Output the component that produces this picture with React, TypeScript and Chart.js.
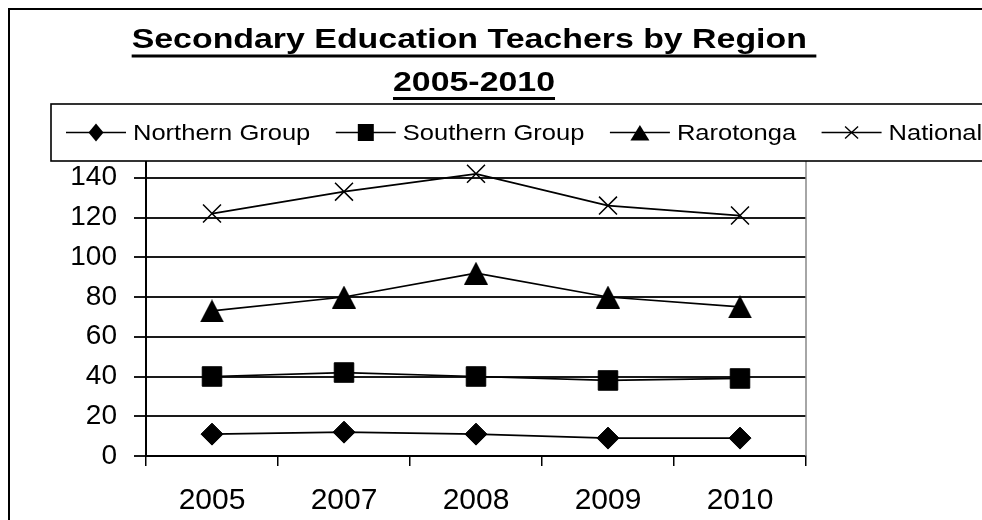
import React, { useEffect, useRef } from 'react';
import { Chart, registerables } from 'chart.js';

Chart.register(...registerables);

const TITLE_LINES = ['Secondary Education Teachers by Region ', '2005-2010'];
const YEARS = ['2005', '2007', '2008', '2009', '2010'];
const SERIES_NAMES = ['Northern Group', 'Southern Group', 'Rarotonga', 'National'];
const NORTHERN = [11, 12, 11, 9, 9];
const SOUTHERN = [40, 42, 40, 38, 39];
const RAROTONGA = [73, 80, 92, 80, 75];
const NATIONAL = [122, 133, 142, 126, 121];
const Y_MIN = 0;
const Y_MAX = 160;
const Y_STEP = 20;

const FONT = '"Liberation Sans", Arial, sans-serif';
const W = 982;
const H = 520;

function makeTriangle(w: number, h: number) {
  const c = document.createElement('canvas');
  c.width = w;
  c.height = h;
  const g = c.getContext('2d')!;
  g.fillStyle = '#000';
  g.beginPath();
  g.moveTo(w / 2, 0);
  g.lineTo(w, h);
  g.lineTo(0, h);
  g.closePath();
  g.fill();
  return c;
}

function drawLegendMarker(ctx: CanvasRenderingContext2D, kind: number, x: number, y: number) {
  ctx.save();
  ctx.fillStyle = '#000';
  ctx.strokeStyle = '#000';
  ctx.beginPath();
  if (kind === 0) {
    ctx.moveTo(x, y - 9);
    ctx.lineTo(x + 7.5, y);
    ctx.lineTo(x, y + 9);
    ctx.lineTo(x - 7.5, y);
    ctx.closePath();
    ctx.fill();
  } else if (kind === 1) {
    ctx.rect(x - 8, y - 8.5, 16, 17);
    ctx.fill();
  } else if (kind === 2) {
    ctx.moveTo(x, y - 7.5);
    ctx.lineTo(x + 9.5, y + 8);
    ctx.lineTo(x - 9.5, y + 8);
    ctx.closePath();
    ctx.fill();
  } else {
    ctx.lineWidth = 1.4;
    ctx.moveTo(x - 6.5, y - 6);
    ctx.lineTo(x + 6.5, y + 6);
    ctx.moveTo(x + 6.5, y - 6);
    ctx.lineTo(x - 6.5, y + 6);
    ctx.stroke();
  }
  ctx.restore();
}

const decorPlugin = {
  id: 'decor',
  afterDraw(chart: any) {
    const ctx: CanvasRenderingContext2D = chart.ctx;
    const a = chart.chartArea;
    ctx.save();

    // plot area right border
    ctx.strokeStyle = '#888';
    ctx.lineWidth = 1.5;
    ctx.beginPath();
    ctx.moveTo(a.right, a.top);
    ctx.lineTo(a.right, a.bottom);
    ctx.stroke();

    // outer chart border
    ctx.strokeStyle = '#000';
    ctx.lineWidth = 2;
    ctx.strokeRect(9, 9, 3000, 3000);

    // title
    ctx.fillStyle = '#000';
    ctx.font = `bold 28px ${FONT}`;
    ctx.textAlign = 'center';
    ctx.textBaseline = 'alphabetic';
    const sx = 1.21;
    const titleCx = 474;
    const baselines = [48, 90.5];
    TITLE_LINES.forEach((t, i) => {
      ctx.save();
      ctx.translate(titleCx, baselines[i]);
      ctx.scale(sx, 1);
      ctx.fillText(t, 0, 0);
      const w = ctx.measureText(t).width;
      ctx.fillRect(-w / 2, 6.5, w, 3);
      ctx.restore();
    });

    // legend box
    ctx.fillStyle = '#fff';
    ctx.fillRect(51, 104, 2000, 57);
    ctx.strokeStyle = '#000';
    ctx.lineWidth = 1.6;
    ctx.strokeRect(51, 104, 2000, 57);

    // legend items
    ctx.font = `22px ${FONT}`;
    ctx.textAlign = 'left';
    ctx.textBaseline = 'alphabetic';
    const lsx = 1.16;
    const ly = 132.5;
    let x = 66;
    SERIES_NAMES.forEach((name, i) => {
      ctx.strokeStyle = '#000';
      ctx.lineWidth = 1.6;
      ctx.beginPath();
      ctx.moveTo(x, ly);
      ctx.lineTo(x + 60, ly);
      ctx.stroke();
      drawLegendMarker(ctx, i, x + 30, ly);
      const tx = x + 67;
      ctx.save();
      ctx.translate(tx, 139.5);
      ctx.scale(lsx, 1);
      ctx.fillStyle = '#000';
      ctx.fillText(name, 0, 0);
      const tw = ctx.measureText(name).width * lsx;
      ctx.restore();
      x = tx + tw + 25.5;
    });

    ctx.restore();
  },
};

export default function App() {
  const ref = useRef<HTMLCanvasElement | null>(null);

  useEffect(() => {
    if (!ref.current) return;
    const tri = makeTriangle(24, 23);
    const lineCommon = {
      borderColor: '#000',
      borderWidth: 1.75,
      backgroundColor: '#000',
      pointBackgroundColor: '#000',
      pointBorderColor: '#000',
      tension: 0,
      fill: false,
    };
    const chart = new Chart(ref.current, {
      type: 'line',
      data: {
        labels: YEARS,
        datasets: [
          { ...lineCommon, label: SERIES_NAMES[0], data: NORTHERN, pointStyle: 'rectRot', pointRadius: 11, pointBorderWidth: 1 },
          { ...lineCommon, label: SERIES_NAMES[1], data: SOUTHERN, pointStyle: 'rect', pointRadius: 13.8, pointBorderWidth: 1 },
          { ...lineCommon, label: SERIES_NAMES[2], data: RAROTONGA, pointStyle: tri as any, pointRadius: 11 },
          { ...lineCommon, label: SERIES_NAMES[3], data: NATIONAL, pointStyle: 'crossRot', pointRadius: 12.7, pointBorderWidth: 1.5 },
        ],
      },
      options: {
        responsive: false,
        animation: false,
        devicePixelRatio: 1,
        layout: { padding: { left: 0, right: W - 806, top: 138, bottom: 0 } },
        plugins: {
          legend: { display: false },
          title: { display: false },
          tooltip: { enabled: false },
        },
        scales: {
          x: {
            type: 'category',
            offset: true,
            grid: {
              offset: true,
              drawOnChartArea: false,
              drawTicks: true,
              tickLength: 10,
              color: '#000',
              lineWidth: 1.5,
            },
            border: { display: true, color: '#000', width: 2 },
            ticks: {
              color: '#000',
              font: { family: FONT, size: 30 },
              padding: 17,
              maxRotation: 0,
              autoSkip: false,
            },
            afterFit(scale: any) {
              scale.height = H - 456;
            },
          },
          y: {
            min: Y_MIN,
            max: Y_MAX,
            grid: {
              color: '#1a1a1a',
              lineWidth: 2,
              drawTicks: true,
              tickLength: 12,
            },
            border: { display: true, color: '#000', width: 2 },
            ticks: {
              stepSize: Y_STEP,
              color: '#000',
              font: { family: FONT, size: 28 },
              padding: 17,
            },
            afterFit(scale: any) {
              scale.width = 146;
            },
          },
        },
      },
      plugins: [decorPlugin],
    });
    return () => chart.destroy();
  }, []);

  return (
    <div style={{ position: 'absolute', left: 0, top: 0, width: W, height: H, overflow: 'hidden', background: '#fff' }}>
      <canvas ref={ref} width={W} height={H} style={{ display: 'block' }} />
    </div>
  );
}
